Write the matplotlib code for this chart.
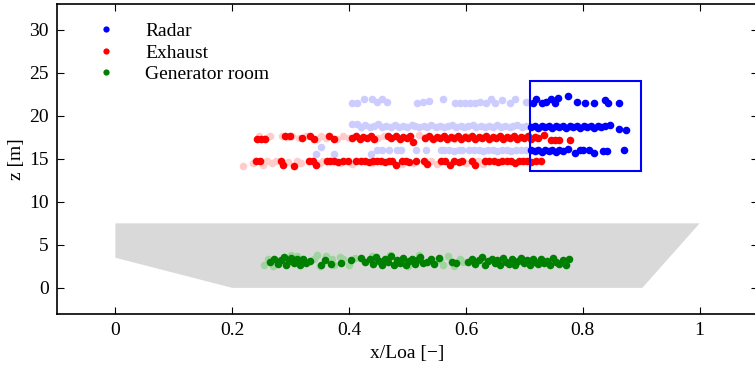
import matplotlib.pyplot as plt
from matplotlib.patches import Polygon, Rectangle
from matplotlib.lines import Line2D

plt.rcParams['font.family'] = ['Liberation Serif', 'DejaVu Serif']
plt.rcParams['font.size'] = 14

# hull outline (x/Loa, z)
hull_x = [0.0, 1.0, 0.902, 0.2, 0.0]
hull_z = [7.5, 7.5, 0.0, 0.0, 3.5]

# radar box
box_x = [0.71, 0.90]
box_z = [13.6, 24.0]

# Radar, faded points
radar_light_x = [0.405, 0.413, 0.425, 0.439, 0.448, 0.456, 0.465, 0.516, 0.527, 0.537, 0.561, 0.581,
                 0.590, 0.599, 0.607, 0.616, 0.624, 0.635, 0.643, 0.650, 0.662, 0.676, 0.684, 0.703,
                 0.405, 0.413, 0.421, 0.428, 0.436, 0.443, 0.450, 0.457, 0.464, 0.471, 0.479, 0.486,
                 0.492, 0.499, 0.507, 0.513, 0.520, 0.528, 0.534, 0.541, 0.549, 0.555, 0.562, 0.570,
                 0.576, 0.583, 0.591, 0.597, 0.604, 0.612, 0.618, 0.625, 0.633, 0.639, 0.646, 0.654,
                 0.660, 0.667, 0.675, 0.681, 0.688, 0.696, 0.702,
                 0.343, 0.352, 0.374, 0.437, 0.448, 0.456, 0.468, 0.482, 0.489, 0.515, 0.532, 0.557,
                 0.563, 0.571, 0.580, 0.588, 0.593, 0.605, 0.614, 0.622, 0.630, 0.638, 0.646, 0.654,
                 0.662, 0.670, 0.678, 0.686, 0.694, 0.702]
radar_light_z = [21.5, 21.5, 21.9, 22.0, 21.6, 21.9, 21.6, 21.5, 21.6, 21.7, 22.0, 21.5,
                 21.5, 21.5, 21.5, 21.5, 21.6, 21.5, 21.9, 21.5, 21.8, 21.5, 21.9, 21.6,
                 19.0, 19.0, 18.7, 18.9, 18.7, 18.8, 19.0, 18.7, 18.8, 18.7, 18.9, 18.7,
                 18.8, 18.7, 18.9, 18.8, 18.7, 18.8, 18.7, 18.9, 18.7, 18.8, 18.7, 18.8,
                 18.9, 18.7, 18.8, 18.7, 18.8, 18.9, 18.7, 18.8, 18.7, 18.8, 18.7, 18.9,
                 18.7, 18.8, 18.7, 18.8, 18.9, 18.7, 18.8,
                 15.6, 16.4, 15.6, 15.6, 16.0, 16.0, 16.0, 16.0, 16.0, 16.0, 16.0, 16.0,
                 16.0, 16.0, 15.9, 16.0, 16.0, 16.0, 16.0, 16.0, 15.9, 16.0, 16.0, 15.9,
                 16.0, 16.0, 15.9, 16.0, 16.0, 16.0]

# Radar, points in the box
radar_x = [0.714, 0.720, 0.730, 0.737, 0.745, 0.752, 0.758, 0.775, 0.790, 0.803, 0.820, 0.838, 0.843, 0.862,
           0.712, 0.718, 0.724, 0.730, 0.736, 0.742, 0.748, 0.754, 0.760, 0.766, 0.772, 0.778, 0.784,
           0.790, 0.796, 0.802, 0.808, 0.814, 0.820, 0.826, 0.832, 0.838, 0.846, 0.862, 0.874,
           0.712, 0.718, 0.724, 0.730, 0.736, 0.742, 0.748, 0.754, 0.760, 0.766, 0.775, 0.786,
           0.795, 0.801, 0.810, 0.820, 0.835, 0.841, 0.870]
radar_z = [21.5, 21.9, 21.5, 21.6, 21.9, 21.5, 22.1, 22.3, 21.6, 21.5, 21.5, 21.8, 21.5, 21.5,
           18.7, 18.8, 18.6, 18.8, 18.7, 18.8, 18.6, 18.8, 18.7, 18.8, 18.6, 18.8, 18.7,
           18.8, 18.6, 18.8, 18.7, 18.8, 18.6, 18.8, 18.7, 18.8, 18.9, 18.5, 18.3,
           16.0, 15.9, 16.0, 15.8, 16.0, 15.9, 16.0, 15.8, 16.0, 15.9, 16.1, 15.7,
           16.0, 16.0, 16.0, 15.7, 15.9, 15.9, 16.0]

# Exhaust, faded points
exhaust_light_x = [0.245, 0.258, 0.265, 0.285, 0.293, 0.303, 0.315, 0.327, 0.345, 0.352, 0.360, 0.380,
                   0.390, 0.400, 0.450, 0.460, 0.520, 0.530, 0.580, 0.600,
                   0.218, 0.235, 0.252, 0.260, 0.268, 0.275, 0.295, 0.310, 0.318, 0.350, 0.355, 0.385,
                   0.405, 0.440, 0.490, 0.510, 0.540, 0.550, 0.600, 0.620, 0.630]
exhaust_light_z = [17.6, 17.4, 17.7, 17.7, 17.5, 17.7, 17.4, 17.7, 17.3, 17.6, 17.4, 17.3,
                   17.6, 17.4, 17.4, 17.6, 17.8, 17.5, 17.3, 17.6,
                   14.2, 14.5, 14.3, 14.7, 14.5, 14.8, 14.6, 14.8, 14.5, 14.5, 14.8, 14.5,
                   14.4, 14.5, 14.4, 14.5, 14.7, 14.4, 14.5, 14.7, 14.4]

# Exhaust
exhaust_x = [0.242, 0.250, 0.256, 0.290, 0.298, 0.320, 0.333, 0.340, 0.366, 0.374, 0.405, 0.412,
             0.418, 0.424, 0.430, 0.437, 0.443, 0.466, 0.471, 0.480, 0.487, 0.493, 0.499, 0.505,
             0.510, 0.530, 0.537, 0.543, 0.550, 0.556, 0.562, 0.568, 0.574, 0.580, 0.586, 0.592,
             0.598, 0.604, 0.610, 0.616, 0.622, 0.628, 0.634, 0.640, 0.646, 0.652, 0.658, 0.664,
             0.670, 0.676, 0.682, 0.688, 0.694, 0.700, 0.706, 0.712, 0.718, 0.724, 0.733, 0.745,
             0.752, 0.760, 0.778,
             0.240, 0.248, 0.283, 0.287, 0.305, 0.331, 0.338, 0.343, 0.362, 0.368, 0.375, 0.381,
             0.390, 0.398, 0.412, 0.420, 0.427, 0.434, 0.441, 0.448, 0.455, 0.461, 0.468, 0.474,
             0.480, 0.490, 0.497, 0.503, 0.515, 0.528, 0.533, 0.557, 0.565, 0.573, 0.580, 0.588,
             0.593, 0.610, 0.616, 0.633, 0.640, 0.648, 0.655, 0.662, 0.670, 0.677, 0.684, 0.690,
             0.697, 0.704, 0.712, 0.720, 0.728]
exhaust_z = [17.3, 17.3, 17.3, 17.6, 17.6, 17.4, 17.6, 17.3, 17.6, 17.3, 17.4, 17.6,
             17.3, 17.5, 17.4, 17.6, 17.3, 17.6, 17.4, 17.6, 17.3, 17.5, 17.4, 17.6,
             17.0, 17.4, 17.6, 17.3, 17.5, 17.4, 17.6, 17.3, 17.5, 17.4, 17.6, 17.3,
             17.5, 17.4, 17.6, 17.3, 17.5, 17.4, 17.6, 17.3, 17.5, 17.4, 17.6, 17.3,
             17.5, 17.4, 17.6, 17.3, 17.5, 17.4, 17.6, 17.3, 17.5, 17.4, 17.8, 17.2,
             17.2, 17.2, 17.2,
             14.8, 14.7, 14.8, 14.3, 14.2, 14.7, 14.8, 14.3, 14.8, 14.7, 14.8, 14.6,
             14.8, 14.7, 14.8, 14.7, 14.8, 14.6, 14.8, 14.7, 14.8, 14.6, 14.8, 14.7,
             14.3, 14.7, 14.8, 14.6, 14.7, 14.8, 14.4, 14.8, 14.7, 14.3, 14.8, 14.6,
             14.8, 14.7, 14.3, 14.8, 14.7, 14.8, 14.6, 14.8, 14.7, 14.8, 14.5, 14.8,
             14.7, 14.8, 14.6, 14.8, 14.7]

# Generator room, faded points
gen_light_x = [0.255, 0.262, 0.270, 0.300, 0.310, 0.340, 0.345, 0.350, 0.360, 0.370, 0.375, 0.385,
               0.390, 0.400, 0.410, 0.440, 0.470, 0.500, 0.520, 0.555, 0.560, 0.570, 0.580, 0.590, 0.595]
gen_light_z = [2.6, 3.3, 2.5, 3.8, 3.7, 3.3, 3.8, 2.5, 3.7, 3.4, 2.6, 3.6,
               3.3, 2.6, 3.5, 3.7, 3.8, 2.5, 3.8, 3.2, 2.6, 3.7, 2.5, 3.3, 3.0]

# Generator room
gen_x = [0.265, 0.272, 0.278, 0.283, 0.288, 0.292, 0.297, 0.301, 0.306, 0.311, 0.316, 0.321,
         0.327, 0.333, 0.352, 0.358, 0.369, 0.386, 0.403, 0.421, 0.428, 0.435, 0.441, 0.446,
         0.452, 0.457, 0.462, 0.467, 0.472, 0.477, 0.482, 0.487, 0.492, 0.497, 0.502, 0.507,
         0.512, 0.517, 0.522, 0.527, 0.533, 0.540, 0.546, 0.554, 0.576, 0.583, 0.603, 0.610,
         0.616, 0.622, 0.628, 0.633, 0.638, 0.644, 0.649, 0.654, 0.659, 0.664, 0.669, 0.674,
         0.679, 0.684, 0.689, 0.694, 0.699, 0.704, 0.709, 0.714, 0.719, 0.724, 0.729, 0.734,
         0.739, 0.744, 0.749, 0.754, 0.760, 0.766, 0.772, 0.777]
gen_z = [3.0, 3.4, 2.8, 3.2, 3.6, 2.7, 3.1, 3.5, 2.9, 3.3, 2.6, 3.4,
         2.9, 3.1, 2.7, 3.2, 2.8, 2.9, 3.2, 3.5, 3.0, 3.3, 2.8, 3.6,
         3.1, 2.6, 3.4, 3.0, 3.7, 2.7, 3.2, 2.9, 3.5, 2.6, 3.1, 3.4,
         2.8, 3.2, 3.6, 2.9, 3.0, 3.3, 2.8, 3.5, 3.0, 2.9, 3.0, 3.4,
         2.8, 3.2, 3.6, 2.7, 3.1, 3.4, 2.9, 3.2, 2.6, 3.5, 3.0, 2.8,
         3.3, 2.7, 3.1, 3.5, 2.9, 3.2, 2.7, 3.4, 3.0, 2.8, 3.3, 2.9,
         3.1, 2.7, 3.5, 3.0, 2.8, 3.2, 2.6, 3.4]

fig = plt.figure(figsize=(7.55, 3.66), dpi=100)
ax = fig.add_axes([0.0755, 0.143, 0.9285, 0.846])

ax.add_patch(Polygon(list(zip(hull_x, hull_z)), closed=True, facecolor='#d9d9d9', edgecolor='none', zorder=1))

ms = 30
ax.scatter(radar_light_x, radar_light_z, s=ms, color='#ccccff', linewidths=0, zorder=2)
ax.scatter(exhaust_light_x, exhaust_light_z, s=ms, color='#ffcccc', linewidths=0, zorder=2)
ax.scatter(gen_light_x, gen_light_z, s=ms, color='#9fd49f', linewidths=0, zorder=2)
ax.scatter(radar_x, radar_z, s=ms, color='#0000ff', linewidths=0, zorder=3)
ax.scatter(exhaust_x, exhaust_z, s=ms, color='#ff0000', linewidths=0, zorder=3)
ax.scatter(gen_x, gen_z, s=ms, color='#008000', linewidths=0, zorder=3)

ax.add_patch(Rectangle((box_x[0], box_z[0]), box_x[1] - box_x[0], box_z[1] - box_z[0],
                       fill=False, edgecolor='#0000ff', linewidth=1.5, zorder=4))

ax.set_xlim(-0.1, 1.1)
ax.set_ylim(-3, 33)
ax.set_xticks([0, 0.2, 0.4, 0.6, 0.8, 1])
ax.set_xticklabels(['0', '0.2', '0.4', '0.6', '0.8', '1'])
ax.set_yticks([0, 5, 10, 15, 20, 25, 30])
ax.tick_params(direction='in', top=True, right=True, length=5, width=0.8, pad=6)
for s in ax.spines.values():
    s.set_linewidth(1.2)
ax.set_xlabel('x/Loa [\u2212]', labelpad=4)
ax.set_ylabel('z [m]', labelpad=3)

handles = [Line2D([], [], ls='none', marker='o', ms=4.5, mec='none', color=c)
           for c in ['#0000ff', '#ff0000', '#008000']]
ax.legend(handles, ['Radar', 'Exhaust', 'Generator room'], loc='upper left', frameon=False,
          bbox_to_anchor=(0.034, 0.99), handlelength=1.0, handletextpad=1.5,
          labelspacing=0.2, borderpad=0.3)

fig.savefig('out.png', dpi=100)
